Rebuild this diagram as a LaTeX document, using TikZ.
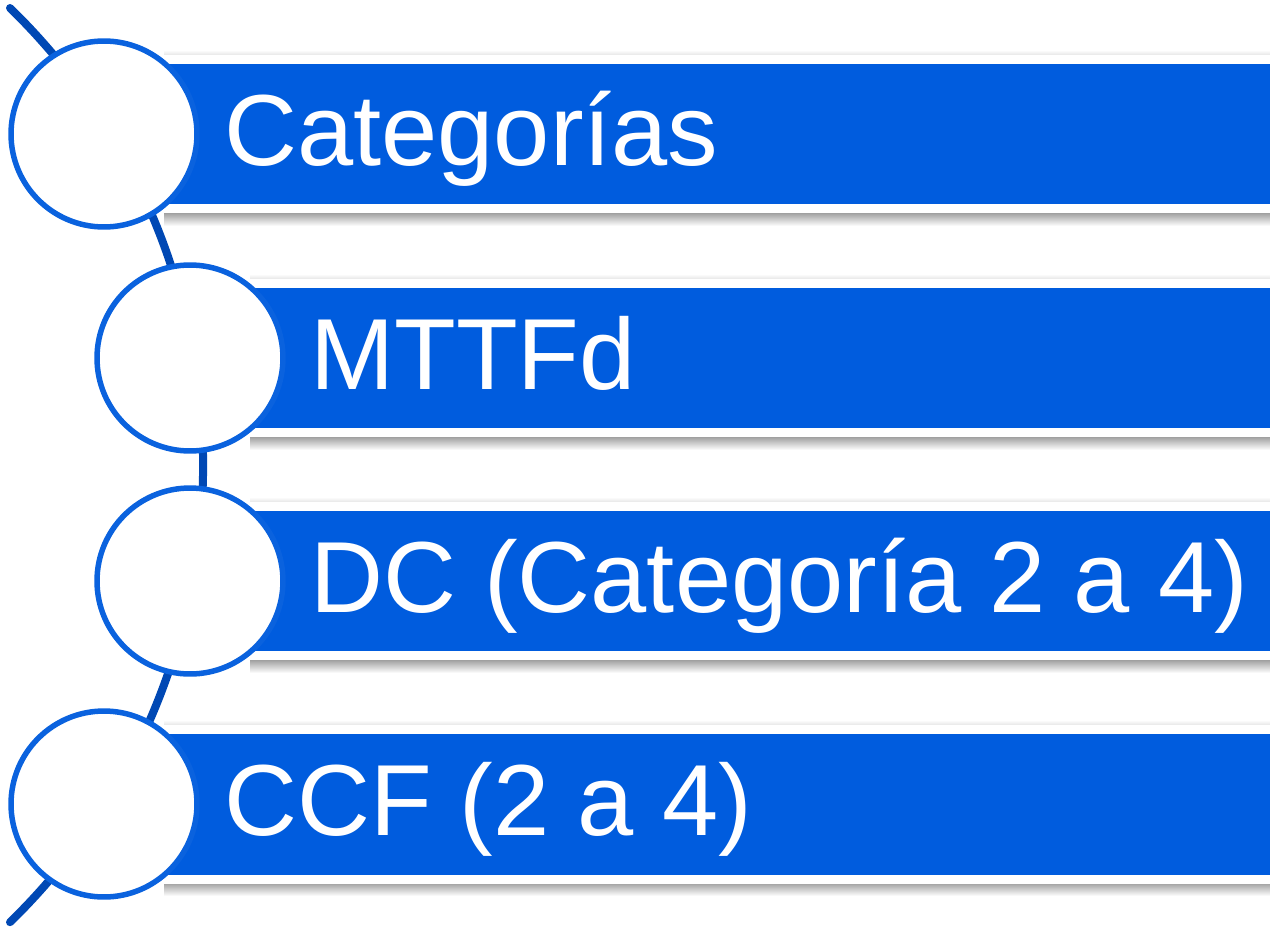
\documentclass[tikz,border=0pt]{standalone}
\usepackage{fontspec}
\setmainfont{Liberation Sans}
\usetikzlibrary{positioning}
\definecolor{barblue}{RGB}{0,92,222}
\definecolor{ringblue}{RGB}{10,98,222}
\definecolor{arcblue}{RGB}{0,72,180}

\begin{document}
\begin{tikzpicture}[x=0.02cm,y=-0.02cm,
  bar/.style={rectangle,fill=barblue,draw=white,line width=0.18cm,anchor=west,
    inner sep=0pt,minimum height=3cm},
  glow/.style={top color=black!40,bottom color=white,draw=none},
  dot/.style={circle,draw=ringblue,fill=white,line width=0.11cm,
    minimum size=3.72cm,inner sep=0pt},
  txt/.style={text=white,font=\fontsize{57.5}{57.5}\selectfont,anchor=base west,inner sep=0pt}]
\clip (0,0) rectangle (1270,930);
\fill[white] (0,0) rectangle (1270,930);
\coordinate (top) at (10,8);
\draw[arcblue,line width=0.16cm,line cap=round] (top) arc[start angle=-45.8,end angle=45.8,radius=637.6] coordinate (bottom);
\foreach \i/\x/\y/\t in {1/104/134/Categorías,2/190/358/MTTFd,3/190/581/{DC (Categoría 2 a 4)},4/104/804/{CCF (2 a 4)}}
{
\shade[glow] (\x+60,\y+78) rectangle (1270,\y+92);
\shade[top color=white,bottom color=black!12,draw=none] (\x+60,\y-84) rectangle (1270,\y-78);
\node[bar,minimum width={(1300-\x)*0.02cm}] (bar\i) at (\x,\y) {};
\node[dot] (dot\i) at (\x,\y) {};
\node[txt] (lbl\i) at (\x+120,\y+31) {\t};
}
\end{tikzpicture}
\end{document}
